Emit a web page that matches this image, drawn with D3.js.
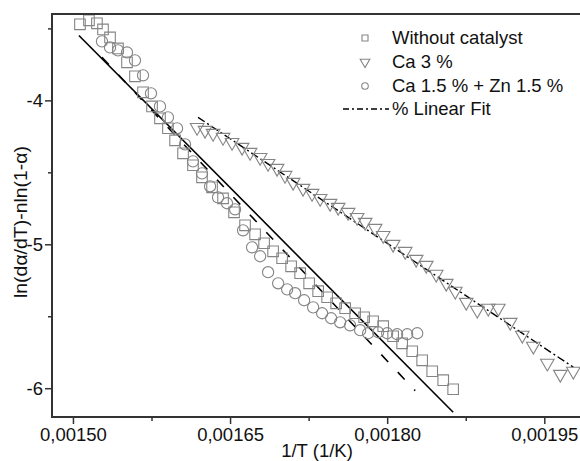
<!DOCTYPE html>
<html>
<head>
<meta charset="utf-8">
<script src="https://cdn.jsdelivr.net/npm/d3@7"></script>
<style>
  body { margin: 0; background: #fff; }
  text { font-family: "Liberation Sans", Arial, sans-serif; }
</style>
</head>
<body>
<svg id="chart" width="580" height="461"></svg>
<script>
// ---- data ----
// Without catalyst (squares)
const noCatX = [0.0015067, 0.0015153, 0.0015229, 0.0015287, 0.0015354, 0.0015430, 0.0015516, 0.0015592,
  0.0015669, 0.0015755, 0.0015831, 0.0015907, 0.0015975, 0.0016051, 0.0016146, 0.0016232, 0.0016328,
  0.0016433, 0.0016538, 0.0016643, 0.0016739, 0.0016825, 0.0016911, 0.0016997, 0.0017083, 0.0017169,
  0.0017255, 0.0017341, 0.0017427, 0.0017513, 0.0017599, 0.0017694, 0.0017780, 0.0017866, 0.0017962,
  0.0018057, 0.0018143, 0.0018239, 0.0018334, 0.0018430, 0.0018535, 0.0018630];
const noCatY = [-3.472, -3.444, -3.465, -3.507, -3.563, -3.639, -3.736, -3.833,
  -3.944, -4.042, -4.125, -4.194, -4.278, -4.368, -4.451, -4.535, -4.604,
  -4.681, -4.778, -4.868, -4.931, -4.993, -5.049, -5.097, -5.153, -5.201,
  -5.271, -5.326, -5.368, -5.410, -5.444, -5.479, -5.507, -5.535, -5.569,
  -5.639, -5.688, -5.743, -5.806, -5.882, -5.944, -6.007];

// Ca 3 % (triangles)
const ca3X = [0.0016185, 0.0016261, 0.0016338, 0.0016433, 0.0016519, 0.0016615, 0.0016691, 0.0016787,
  0.0016863, 0.0016949, 0.0017025, 0.0017102, 0.0017197, 0.0017283, 0.0017360, 0.0017455, 0.0017532,
  0.0017627, 0.0017713, 0.0017790, 0.0017885, 0.0017962, 0.0018057, 0.0018172, 0.0018277, 0.0018373,
  0.0018468, 0.0018564, 0.0018650, 0.0018755, 0.0018860, 0.0018965, 0.0019061, 0.0019175, 0.0019290,
  0.0019395, 0.0019529, 0.0019653, 0.0019777];
const ca3Y = [-4.188, -4.208, -4.229, -4.257, -4.292, -4.326, -4.361, -4.396,
  -4.438, -4.472, -4.521, -4.569, -4.611, -4.646, -4.681, -4.715, -4.743,
  -4.778, -4.813, -4.847, -4.889, -4.938, -5.000, -5.049, -5.104, -5.146,
  -5.208, -5.271, -5.326, -5.403, -5.458, -5.444, -5.444, -5.542, -5.632,
  -5.708, -5.826, -5.903, -5.882];

// Ca 1.5 % + Zn 1.5 % (circles)
const caZnX = [0.0015277, 0.0015354, 0.0015430, 0.0015516, 0.0015592, 0.0015669, 0.0015745, 0.0015831,
  0.0015907, 0.0015994, 0.0016070, 0.0016146, 0.0016232, 0.0016309, 0.0016385, 0.0016471, 0.0016548,
  0.0016624, 0.0016710, 0.0016787, 0.0016863, 0.0016959, 0.0017045, 0.0017121, 0.0017207, 0.0017293,
  0.0017379, 0.0017465, 0.0017551, 0.0017646, 0.0017742, 0.0017818, 0.0017914, 0.0018000, 0.0018095,
  0.0018191, 0.0018287];
const caZnY = [-3.590, -3.632, -3.653, -3.667, -3.722, -3.826, -3.951, -4.042,
  -4.118, -4.194, -4.306, -4.424, -4.507, -4.597, -4.674, -4.715, -4.757,
  -4.903, -5.021, -5.083, -5.194, -5.271, -5.313, -5.340, -5.389, -5.438,
  -5.479, -5.514, -5.542, -5.563, -5.597, -5.618, -5.611, -5.618, -5.625,
  -5.625, -5.618];

// linear fits, start and end points
const fitNoCatX = [0.0015057, 0.0018630];
const fitNoCatY = [-3.549, -6.167];
const fitCaZnX = [0.0015277, 0.0018267];
const fitCaZnY = [-3.701, -6.017];
const fitCa3X = [0.0016194, 0.0019777];
const fitCa3Y = [-4.118, -5.854];

// axis ticks
const xTicks = [0.0015, 0.00165, 0.0018, 0.00195];
const xTickLabels = ["0,00150", "0,00165", "0,00180", "0,00195"];
const xMinorTicks = [0.001575, 0.001725, 0.001875];
const yTicks = [-6, -5, -4];
const yTickLabels = ["-6", "-5", "-4"];
const yMinorTicks = [-5.5, -4.5, -3.5];

const legendLabels = ["Without catalyst", "Ca 3 %", "Ca 1.5 % + Zn 1.5 %", "% Linear Fit"];

// ---- drawing ----
const svg = d3.select("#chart");
const plotLeft = 52, plotRight = 582, plotTop = 14, plotBottom = 417;
const markerColor = "#858585";
const axisColor = "#333";

const x = d3.scaleLinear().domain([0.00148, 0.001986]).range([plotLeft, plotRight]);
const y = d3.scaleLinear().domain([-6.2, -3.4]).range([plotBottom, plotTop]);

const zip = (xs, ys) => xs.map((v, i) => [v, ys[i]]);

// fit lines
const line = d3.line().x(d => x(d[0])).y(d => y(d[1]));

svg.append("path")
    .attr("d", line(zip(fitNoCatX, fitNoCatY)))
    .attr("fill", "none").attr("stroke", "#000").attr("stroke-width", 1.6);

svg.append("path")
    .attr("d", line(zip(fitCaZnX, fitCaZnY)))
    .attr("fill", "none").attr("stroke", "#000").attr("stroke-width", 1.6)
    .attr("stroke-dasharray", "10,14");

svg.append("path")
    .attr("d", line(zip(fitCa3X, fitCa3Y)))
    .attr("fill", "none").attr("stroke", "#000").attr("stroke-width", 1.4)
    .attr("stroke-dasharray", "8,3,2,3");

// markers
const squareSym = d3.symbol().type(d3.symbolSquare).size(112);
const triSym = d3.symbol().type(d3.symbolTriangle).size(80);

svg.append("g").selectAll("path")
    .data(zip(noCatX, noCatY))
    .enter().append("path")
    .attr("d", squareSym)
    .attr("transform", d => "translate(" + x(d[0]) + "," + y(d[1]) + ")")
    .attr("fill", "none").attr("stroke", markerColor).attr("stroke-width", 1.1);

svg.append("g").selectAll("path")
    .data(zip(ca3X, ca3Y))
    .enter().append("path")
    .attr("d", triSym)
    .attr("transform", d => "translate(" + x(d[0]) + "," + y(d[1]) + ") rotate(180)")
    .attr("fill", "none").attr("stroke", markerColor).attr("stroke-width", 1.1);

svg.append("g").selectAll("circle")
    .data(zip(caZnX, caZnY))
    .enter().append("circle")
    .attr("cx", d => x(d[0]))
    .attr("cy", d => y(d[1]))
    .attr("r", 5.6)
    .attr("fill", "none").attr("stroke", markerColor).attr("stroke-width", 1.1);

// axes
const styleAxis = g => {
    g.select(".domain").remove();
    g.selectAll("line").attr("stroke", axisColor).attr("stroke-width", 1.5);
    g.selectAll("text").attr("fill", "#111").style("font-size", "18.5px")
        .style("font-family", '"Liberation Sans", Arial, sans-serif');
};

svg.append("g")
    .attr("transform", "translate(0," + plotBottom + ")")
    .call(d3.axisBottom(x).tickValues(xTicks).tickSize(7).tickPadding(4)
        .tickFormat((d, i) => xTickLabels[i]))
    .call(styleAxis);

svg.append("g")
    .attr("transform", "translate(0," + plotBottom + ")")
    .call(d3.axisBottom(x).tickValues(xMinorTicks).tickSize(4).tickFormat(""))
    .call(styleAxis);

svg.append("g")
    .attr("transform", "translate(" + plotLeft + ",0)")
    .call(d3.axisLeft(y).tickValues(yTicks).tickSize(7).tickPadding(2)
        .tickFormat((d, i) => yTickLabels[i]))
    .call(styleAxis);

svg.append("g")
    .attr("transform", "translate(" + plotLeft + ",0)")
    .call(d3.axisLeft(y).tickValues(yMinorTicks).tickSize(4).tickFormat(""))
    .call(styleAxis);

// frame: left, bottom, top (right side is off the picture)
svg.append("path")
    .attr("d", "M580," + plotTop + "H" + plotLeft + "V" + plotBottom + "H580")
    .attr("fill", "none").attr("stroke", axisColor).attr("stroke-width", 2);

// axis titles
svg.append("text")
    .attr("x", (plotLeft + plotRight) / 2).attr("y", 457)
    .attr("text-anchor", "middle")
    .style("font-size", "18.5px").attr("fill", "#111")
    .text("1/T (1/K)");

svg.append("text")
    .attr("transform", "translate(27,222) rotate(-90)")
    .attr("text-anchor", "middle")
    .attr("textLength", 152)
    .attr("lengthAdjust", "spacingAndGlyphs")
    .style("font-size", "18.5px").attr("fill", "#111")
    .text("ln(dα/dT)-nln(1-α)");

// legend
const legend = svg.append("g");
const rowY = [38, 62, 86, 109];
const symX = 365, textX = 392;

legend.append("path")
    .attr("d", d3.symbol().type(d3.symbolSquare).size(36))
    .attr("transform", "translate(" + symX + "," + rowY[0] + ")")
    .attr("fill", "none").attr("stroke", markerColor).attr("stroke-width", 1.1);
legend.append("path")
    .attr("d", d3.symbol().type(d3.symbolTriangle).size(40))
    .attr("transform", "translate(" + symX + "," + rowY[1] + ") rotate(180)")
    .attr("fill", "none").attr("stroke", markerColor).attr("stroke-width", 1.1);
legend.append("circle")
    .attr("cx", symX).attr("cy", rowY[2]).attr("r", 3.3)
    .attr("fill", "none").attr("stroke", markerColor).attr("stroke-width", 1.1);
legend.append("line")
    .attr("x1", 343).attr("x2", 389).attr("y1", rowY[3]).attr("y2", rowY[3])
    .attr("stroke", "#000").attr("stroke-width", 1.4)
    .attr("stroke-dasharray", "6,3,2,3");

legend.selectAll("text")
    .data(legendLabels)
    .enter().append("text")
    .attr("x", textX)
    .attr("y", (d, i) => rowY[i])
    .attr("dy", "0.35em")
    .style("font-size", "18.5px").attr("fill", "#111")
    .text(d => d);
</script>
</body>
</html>
